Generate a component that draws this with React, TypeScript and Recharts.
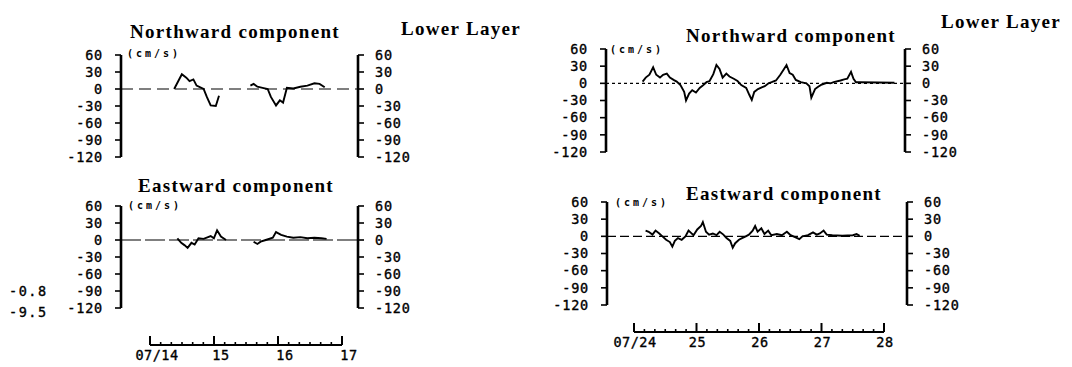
import React from 'react';
import { LineChart, Line, XAxis, YAxis, ReferenceLine } from 'recharts';

// ---------- shared axis values ----------
const yTicks = [-120, -90, -60, -30, 0, 30, 60];
const yDomain: [number, number] = [-120, 60];

// ---------- first period (07/14 - 07/17) ----------
const leftDays = [14, 15, 16, 17];
const leftDayLabels = ['07/14', '15', '16', '17'];

const northLeftTimes = [14.38, 14.5, 14.57, 14.62, 14.68, 14.73, 14.84, 14.89, 14.95, 15.03, 15.08, 15.3,
  15.57, 15.62, 15.68, 15.76, 15.84, 15.89, 15.97, 16.03, 16.08, 16.14, 16.24, 16.35, 16.46, 16.57, 16.65, 16.73];
const northLeftValues = [0, 26, 20, 14, 17, 6, 0, -14, -29, -30, -12, null,
  6, 9, 4, 2, 0, -14, -29, -20, -24, 2, 1, 4, 6, 10, 9, 3];

const eastLeftTimes = [14.43, 14.49, 14.54, 14.59, 14.65, 14.7, 14.76, 14.84, 14.95, 15.0, 15.05, 15.11, 15.19, 15.4,
  15.62, 15.68, 15.73, 15.81, 15.92, 15.97, 16.05, 16.14, 16.24, 16.35, 16.46, 16.57, 16.68, 16.76];
const eastLeftValues = [3, -5, -9, -14, -5, -8, 3, 2, 7, 3, 17, 6, 0, null,
  -3, -7, -3, 0, 4, 14, 9, 6, 4, 5, 3, 4, 3, 2];

// ---------- second period (07/24 - 07/28) ----------
const rightDays = [24, 25, 26, 27, 28];
const rightDayLabels = ['07/24', '25', '26', '27', '28'];

const northRightTimes = [24.14, 24.19, 24.25, 24.31, 24.36, 24.42, 24.47, 24.53, 24.58, 24.64, 24.69, 24.75, 24.81,
  24.84, 24.89, 24.94, 25.0, 25.06, 25.11, 25.17, 25.22, 25.28, 25.33, 25.38, 25.43, 25.49, 25.54, 25.61, 25.67,
  25.73, 25.81, 25.86, 25.9, 25.94, 26.0, 26.06, 26.11, 26.17, 26.22, 26.29, 26.36, 26.42, 26.46, 26.51, 26.56,
  26.61, 26.69, 26.78, 26.83, 26.86, 26.92, 26.97, 27.03, 27.11, 27.17, 27.22, 27.33, 27.39, 27.44, 27.5, 27.54,
  27.58, 27.65, 28.2];
const northRightValues = [3, 10, 15, 28, 15, 10, 15, 17, 10, 6, 3, -3, -15,
  -30, -18, -12, -16, -8, -4, 2, 4, 16, 32, 25, 10, 17, 12, 8, 4,
  -3, -8, -20, -29, -15, -10, -7, -5, 0, 2, 5, 15, 25, 32, 18, 15,
  6, 2, 0, -5, -25, -10, -6, -2, 1, 0, 2, 5, 7, 8, 20, 8,
  2, 2, 1];

const eastRightTimes = [24.17, 24.22, 24.28, 24.33, 24.39, 24.44, 24.5, 24.56, 24.6, 24.64, 24.69, 24.75, 24.81,
  24.86, 24.9, 24.94, 25.0, 25.06, 25.09, 25.14, 25.19, 25.25, 25.31, 25.36, 25.42, 25.47, 25.53, 25.57, 25.61,
  25.67, 25.72, 25.78, 25.83, 25.89, 25.93, 25.97, 26.03, 26.08, 26.14, 26.19, 26.28, 26.36, 26.44, 26.5, 26.58,
  26.64, 26.69, 26.78, 26.86, 26.92, 26.97, 27.03, 27.08, 27.17, 27.33, 27.5, 27.56, 27.61];
const eastRightValues = [10, 8, 3, 10, 5, 0, -6, -10, -18, -8, -3, -6, 0,
  10, 6, 2, 12, 18, 25, 8, 3, 5, 2, 8, 3, -3, -8, -20, -12,
  -6, -3, 0, 3, 10, 18, 8, 14, 4, 10, 2, 4, 2, 8, 2, -2,
  -5, 0, 2, 7, 3, 5, 10, 3, 2, 1, 2, 4, 1];

const toRows = (ts: number[], vs: (number | null)[]) => ts.map((t, i) => ({ t, v: vs[i] }));

const tickFont = {
  fill: '#000', fontSize: 13.5, fontFamily: 'DejaVu Sans Mono', letterSpacing: 0.8,
  stroke: '#000', strokeWidth: 0.35,
};

type Plot = { l: number; r: number; t: number; b: number };

function Panel({ data, domain, plot, dash }: { data: any[]; domain: [number, number]; plot: Plot; dash: string }) {
  const WL = 64, WR = 60, MT = 10, MB = 10;
  const width = plot.r - plot.l + WL + WR;
  const height = plot.b - plot.t + MT + MB;
  return (
    <div style={{ position: 'absolute', left: plot.l - WL, top: plot.t - MT }}>
      <LineChart width={width} height={height} data={data} margin={{ top: MT, right: 0, bottom: MB, left: 0 }}>
        <XAxis type="number" dataKey="t" domain={domain} hide allowDataOverflow />
        <YAxis yAxisId="l" domain={yDomain} ticks={yTicks} interval={0} width={WL} tick={tickFont}
          tickSize={6} tickMargin={12} tickLine={{ stroke: '#000', strokeWidth: 1.6 }}
          axisLine={{ stroke: '#000', strokeWidth: 2.6 }} />
        <YAxis yAxisId="r" orientation="right" domain={yDomain} ticks={yTicks} interval={0} width={WR}
          tick={tickFont} tickSize={6} tickMargin={11} tickLine={{ stroke: '#000', strokeWidth: 1.6 }}
          axisLine={{ stroke: '#000', strokeWidth: 2.6 }} />
        <ReferenceLine yAxisId="l" y={0} stroke="#000" strokeWidth={1.2} strokeDasharray={dash} />
        <Line yAxisId="l" dataKey="v" type="linear" stroke="#000" strokeWidth={1.9} dot={false}
          isAnimationActive={false} connectNulls={false} />
        <Line yAxisId="r" dataKey="v" type="linear" stroke="none" dot={false} isAnimationActive={false} />
      </LineChart>
    </div>
  );
}

function TimeAxis({ days, labels, left, right, axisY, labelDx }: {
  days: number[]; labels: string[]; left: number; right: number; axisY: number; labelDx: number;
}) {
  const ML = 30, MR = 30, MT = 5, H = 40, XH = 25;
  const hours = [0, 4, 8, 12, 16, 20];
  const ticks: number[] = [];
  days.forEach((d, i) => {
    if (i < days.length - 1) hours.forEach((h) => ticks.push(d + h / 24));
    else ticks.push(d);
  });
  const rows = ticks.map((t) => ({ t, y: 0.5 }));
  const renderTick = (props: any) => {
    const { x, y, payload } = props;
    const v = payload.value as number;
    const major = Math.abs(v - Math.round(v)) < 1e-6;
    const idx = days.indexOf(Math.round(v));
    return (
      <g>
        <line x1={x} x2={x} y1={y} y2={y - (major ? 9 : 3)} stroke="#000" strokeWidth={major ? 2 : 1.6} />
        {major && idx >= 0 ? (
          <text x={x + labelDx} y={y + 15} textAnchor="middle" fill="#000" fontSize={13.5}
            fontFamily="DejaVu Sans Mono" letterSpacing={0.5} stroke="#000" strokeWidth={0.35}>{labels[idx]}</text>
        ) : null}
      </g>
    );
  };
  return (
    <div style={{ position: 'absolute', left: left - ML, top: axisY - (H - XH) }}>
      <LineChart width={right - left + ML + MR} height={H} data={rows} margin={{ top: MT, right: MR, bottom: 0, left: ML }}>
        <XAxis type="number" dataKey="t" domain={[days[0], days[days.length - 1]]} ticks={ticks} interval={0}
          tickSize={0} tickMargin={0} tickLine={false} axisLine={{ stroke: '#000', strokeWidth: 1.8 }}
          tick={renderTick} height={XH} />
        <YAxis hide domain={[0, 1]} />
        <Line dataKey="y" stroke="none" dot={false} isAnimationActive={false} />
      </LineChart>
    </div>
  );
}

const titleStyle: React.CSSProperties = {
  position: 'absolute', fontFamily: 'Liberation Serif', fontWeight: 'bold', fontSize: 19,
  letterSpacing: 1.3, lineHeight: '19px', whiteSpace: 'nowrap', color: '#000',
};
const unitStyle: React.CSSProperties = {
  position: 'absolute', fontFamily: 'DejaVu Sans Mono', fontWeight: 'bold', fontSize: 10,
  letterSpacing: 3, lineHeight: '10px', whiteSpace: 'nowrap', color: '#000',
};
const strayStyle: React.CSSProperties = {
  position: 'absolute', fontFamily: 'DejaVu Sans Mono', fontSize: 13.5, letterSpacing: 1.5,
  lineHeight: '13px', whiteSpace: 'nowrap', color: '#000', WebkitTextStroke: '0.35px #000',
};

export default function App() {
  const leftDomain: [number, number] = [13.55, 17.25];
  const rightDomain: [number, number] = [23.55, 28.37];
  return (
    <div style={{ position: 'absolute', left: 0, top: 0, width: 1072, height: 367, background: '#fff', overflow: 'hidden' }}>
      <Panel data={toRows(northLeftTimes, northLeftValues)} domain={leftDomain}
        plot={{ l: 121, r: 358, t: 55, b: 157 }} dash="12 6" />
      <Panel data={toRows(eastLeftTimes, eastLeftValues)} domain={leftDomain}
        plot={{ l: 121, r: 358, t: 206, b: 308 }} dash="20 4" />
      <Panel data={toRows(northRightTimes, northRightValues)} domain={rightDomain}
        plot={{ l: 606, r: 905, t: 49, b: 152 }} dash="3 3" />
      <Panel data={toRows(eastRightTimes, eastRightValues)} domain={rightDomain}
        plot={{ l: 607, r: 907, t: 202, b: 305 }} dash="9 4" />

      <TimeAxis days={leftDays} labels={leftDayLabels} left={150} right={342} axisY={345} labelDx={7} />
      <TimeAxis days={rightDays} labels={rightDayLabels} left={634} right={884} axisY={332} labelDx={1} />

      <div style={{ ...titleStyle, left: 130, top: 22 }}>Northward component</div>
      <div style={{ ...titleStyle, left: 401, top: 19 }}>Lower Layer</div>
      <div style={{ ...titleStyle, left: 138, top: 176 }}>Eastward component</div>
      <div style={{ ...titleStyle, left: 686, top: 26 }}>Northward component</div>
      <div style={{ ...titleStyle, left: 941, top: 12 }}>Lower Layer</div>
      <div style={{ ...titleStyle, left: 686, top: 184 }}>Eastward component</div>

      <div style={{ ...unitStyle, left: 127, top: 49 }}>(cm/s)</div>
      <div style={{ ...unitStyle, left: 128, top: 201 }}>(cm/s)</div>
      <div style={{ ...unitStyle, left: 610, top: 45 }}>(cm/s)</div>
      <div style={{ ...unitStyle, left: 615, top: 198 }}>(cm/s)</div>

      <div style={{ ...strayStyle, left: 9, top: 285 }}>-0.8</div>
      <div style={{ ...strayStyle, left: 9, top: 306 }}>-9.5</div>
    </div>
  );
}
